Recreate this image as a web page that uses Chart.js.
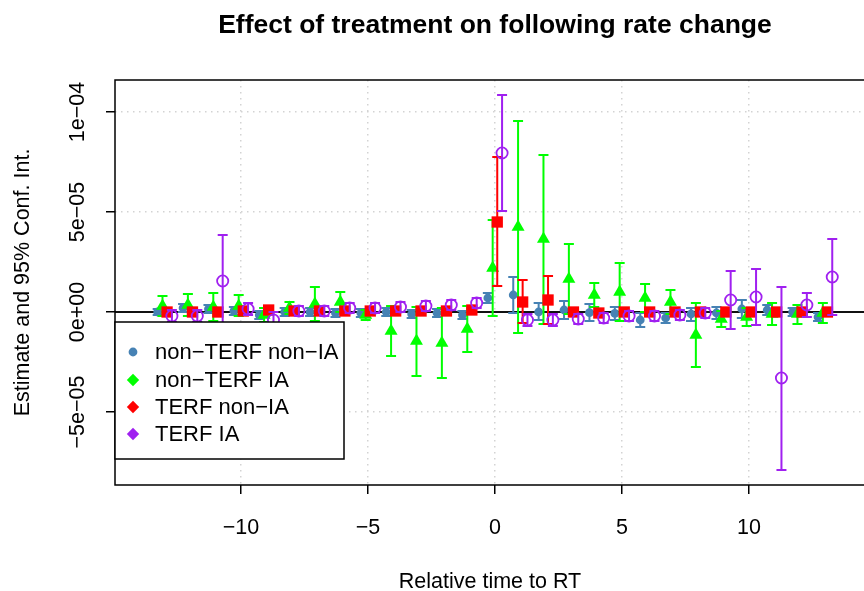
<!DOCTYPE html>
<html><head><meta charset="utf-8">
<script src="https://cdn.jsdelivr.net/npm/chart.js@4/dist/chart.umd.min.js"></script>
<style>html,body{margin:0;padding:0;background:#fff;overflow:hidden;width:864px;height:591px}canvas{display:block}</style>
</head><body><canvas id="c" width="864" height="591" style="width:864px;height:591px"></canvas>
<script>
// values are in units of 1e-6
const UNIT = 1e-6;
const relTime = [-13,-12,-11,-10,-9,-8,-7,-6,-5,-4,-3,-2,-1,0,1,2,3,4,5,6,7,8,9,10,11,12,13];

const nonTerfNonIA_est = [0,2,1.5,0.5,-1.5,0,0,-0.5,-0.5,0,-1,-0.5,-1.5,7,8.5,0,1,-0.3,-0.7,-4,-3,-1,-0.5,1.5,1,0,-2.5];
const nonTerfNonIA_lo  = [-1.5,0,-0.5,-1.5,-3.5,-2,-2,-2.5,-2.5,-2,-3,-2.5,-3.5,4.5,-0.5,-4,-3.5,-4.5,-4,-7.5,-5.5,-4.5,-3.5,-3,-1.5,-2,-4.5];
const nonTerfNonIA_hi  = [1.5,4,3.5,2.5,0.5,2,2,1.5,1.5,2,1,1.5,0.5,9.5,17.5,4.5,5.5,4,2.5,-0.5,-0.5,2,2.5,6,3.5,2,-0.5];

const nonTerfIA_est = [3,3.5,2.5,3,-1.5,2,4,5,-1.5,-9.5,-14.5,-15.5,-8.5,22,42.5,36.5,16.5,8.5,10,7,5,-11.5,-3.5,-2.5,-1,-1,-0.5];
const nonTerfIA_lo  = [-2,-2,-4.5,-2,-5,-1,-4.5,0,-4,-22,-32,-33,-20,-2,-10.5,-6,-1,2.5,-4.5,0,-1,-27.5,-7.5,-7,-6.5,-6,-5.5];
const nonTerfIA_hi  = [8,9,9.5,8.5,2,5,12.5,10,1,3,2.5,2,3,46,95.5,78.5,34,14.5,24.5,14,11,4.5,0.5,2,4.5,3.5,4.5];

const terfNonIA_est = [0,0,0,0.5,1,0.5,0.5,0.5,0.5,0.5,0.5,0.5,1,45,5,6,0,-0.5,0,0,0,0,0,0,0,0,0];
const terfNonIA_lo  = [-1,-1,-1,-0.5,0,-0.5,-0.5,-0.5,-0.5,-0.5,-0.5,-0.5,0,13,-5.5,-6,-1,-1.5,-1,-1,-1,-1,-1,-1,-1,-1,-1];
const terfNonIA_hi  = [1,1,1,1.5,2,1.5,1.5,1.5,1.5,1.5,1.5,1.5,2,77.5,16,18,1,0.5,1,1,1,1,1,1,1,1,1];

const terfIA_est = [-2,-2,15.5,1.5,-4,0.5,0.5,2,2,2.5,3,3.5,4.5,79.5,-4,-4,-3.5,-3,-2,-2,-1.5,-0.5,6,7.5,-33,3.5,17.5];
const terfIA_lo  = [-5,-5,-7.5,-1.5,-8,-2,-2,-0.5,-0.5,0,0.5,1,2,50.5,-7,-7,-6,-5.5,-4.5,-4.5,-4,-3,-8.5,-6.5,-79,-2.5,-1.5];
const terfIA_hi  = [1,1,38.5,4.5,0,3,3,4.5,4.5,5,5.5,6,7,108.5,-1,-1,-1,-0.5,0.5,0.5,1,2,20.5,21.5,12.5,9.5,36.5];

const seriesNames = ['non\u2212TERF non\u2212IA','non\u2212TERF IA','TERF non\u2212IA','TERF IA'];
const xTickValues = [-10,-5,0,5,10];
const xTickLabels = ['\u221210','\u22125','0','5','10'];
const yTickValues = [-5e-5,0,5e-5,1e-4];
const yTickLabels = ['\u22125e\u221205','0e+00','5e\u221205','1e\u221204'];
const titleText = 'Effect of treatment on following rate change';
const xTitle = 'Relative time to RT';
const yTitle = 'Estimate and 95% Conf. Int.';

const FONT = '"Liberation Sans", Arial, Helvetica, sans-serif';
const COLORS = ['#4682B4','#00FF00','#FF0000','#A020F0'];
const OFFSETS = [-0.28,-0.09,0.09,0.28];
const ests = [nonTerfNonIA_est, nonTerfIA_est, terfNonIA_est, terfIA_est];
const los = [nonTerfNonIA_lo, nonTerfIA_lo, terfNonIA_lo, terfIA_lo];
const his = [nonTerfNonIA_hi, nonTerfIA_hi, terfNonIA_hi, terfIA_hi];
const styles = [
  {pointStyle:'circle', radius:4.4, fill:true},
  {pointStyle:'triangle', radius:7.5, fill:true},
  {pointStyle:'rect', radius:8, fill:true},
  {pointStyle:'circle', radius:5.6, fill:false}
];

const datasets = ests.map((est, s) => ({
  label: seriesNames[s],
  data: relTime.map((t, i) => ({x: t + OFFSETS[s], y: est[i] * UNIT, lo: los[s][i] * UNIT, hi: his[s][i] * UNIT})),
  pointStyle: styles[s].pointStyle,
  pointRadius: styles[s].radius,
  pointHoverRadius: styles[s].radius,
  pointBackgroundColor: styles[s].fill ? COLORS[s] : 'rgba(0,0,0,0)',
  pointBorderColor: COLORS[s],
  pointBorderWidth: styles[s].fill ? 0 : 1.8,
  order: 4 - s
}));

const extras = {
  id: 'extras',
  beforeDatasetsDraw(chart) {
    const {ctx, chartArea: a, scales: {y}} = chart;
    const py = y.getPixelForValue(0);
    ctx.save();
    ctx.strokeStyle = '#111'; ctx.lineWidth = 1.8;
    ctx.beginPath(); ctx.moveTo(a.left, py); ctx.lineTo(a.right, py); ctx.stroke();
    ctx.restore();
  },
  beforeDatasetDraw(chart, args) {
    const {ctx, chartArea: a, scales: {x, y}} = chart;
    const ds = chart.data.datasets[args.index];
    const s = seriesNames.indexOf(ds.label);
    ctx.save();
    ctx.beginPath(); ctx.rect(a.left, a.top, a.right - a.left, a.bottom - a.top); ctx.clip();
    ctx.strokeStyle = COLORS[s]; ctx.lineWidth = 2; ctx.lineCap = 'butt';
    const cap = 5;
    ds.data.forEach(p => {
      const px = x.getPixelForValue(p.x);
      const y1 = y.getPixelForValue(p.lo), y2 = y.getPixelForValue(p.hi);
      ctx.beginPath();
      ctx.moveTo(px, y1); ctx.lineTo(px, y2);
      ctx.moveTo(px - cap, y1); ctx.lineTo(px + cap, y1);
      ctx.moveTo(px - cap, y2); ctx.lineTo(px + cap, y2);
      ctx.stroke();
    });
    ctx.restore();
  },
  afterDatasetsDraw(chart) {
    const {ctx, chartArea: a} = chart;
    ctx.save();
    // box (right edge lies just outside the picture)
    ctx.strokeStyle = '#000'; ctx.lineWidth = 1.5;
    ctx.beginPath();
    ctx.moveTo(a.right + 2, a.top); ctx.lineTo(a.left, a.top); ctx.lineTo(a.left, a.bottom); ctx.lineTo(a.right + 2, a.bottom);
    ctx.stroke();
    // legend
    const lx = a.left, ly = 322, lw = 229, lh = 137;
    ctx.fillStyle = '#fff'; ctx.fillRect(lx, ly, lw, lh);
    ctx.strokeRect(lx, ly, lw, lh);
    ctx.font = '22px ' + FONT; ctx.textBaseline = 'middle'; ctx.textAlign = 'left';
    const rows = [352, 380, 407, 434];
    seriesNames.forEach((name, i) => {
      const mx = lx + 18, my = rows[i];
      ctx.fillStyle = COLORS[i];
      ctx.beginPath();
      if (i === 0) { ctx.arc(mx, my, 4.4, 0, Math.PI * 2); }
      else { const d = 6.2; ctx.moveTo(mx, my - d); ctx.lineTo(mx + d, my); ctx.lineTo(mx, my + d); ctx.lineTo(mx - d, my); ctx.closePath(); }
      ctx.fill();
      ctx.fillStyle = '#000';
      ctx.fillText(name, lx + 40, my + 1);
    });
    ctx.restore();
  },
  afterDraw(chart) {
    const {ctx, chartArea: a, scales: {x, y}} = chart;
    ctx.save();
    ctx.fillStyle = '#000';
    ctx.font = '21.5px ' + FONT; ctx.textAlign = 'center'; ctx.textBaseline = 'middle';
    yTickValues.forEach((v, i) => {
      const py = y.getPixelForValue(v);
      ctx.save(); ctx.translate(78, py); ctx.rotate(-Math.PI / 2); ctx.fillText(yTickLabels[i], 0, 0); ctx.restore();
    });
    // titles centred on the full plot region (which extends past the picture edge)
    const cx = x.getPixelForValue(0);
    ctx.font = 'bold 26.5px ' + FONT;
    ctx.fillText(titleText, cx, 26);
    ctx.font = '21.5px ' + FONT;
    ctx.fillText(xTitle, cx - 5, 582);
    ctx.save(); ctx.translate(23, (a.top + a.bottom) / 2); ctx.rotate(-Math.PI / 2); ctx.fillText(yTitle, 0, 0); ctx.restore();
    ctx.restore();
  }
};

new Chart(document.getElementById('c'), {
  type: 'scatter',
  data: {datasets},
  options: {
    responsive: false, devicePixelRatio: 1, animation: false,
    layout: {autoPadding: false, padding: {top: 80, left: 0, right: 0, bottom: 0}},
    plugins: {legend: {display: false}, title: {display: false}, tooltip: {enabled: false}},
    events: [],
    scales: {
      x: {
        type: 'linear', min: -14.96, max: 14.53,
        afterFit(s) { s.height = 106; s.paddingLeft = 0; s.paddingRight = 0; },
        afterBuildTicks(s) { s.ticks = xTickValues.map(v => ({value: v})); },
        grid: {color: '#d3d3d3', lineWidth: 1.5, tickColor: '#000', tickWidth: 1.5, tickLength: 9, drawTicks: true, tickBorderDash: []},
        border: {display: false, dash: [1.5, 4.5]},
        ticks: {font: {family: FONT, size: 21.5}, color: '#000', padding: 21, maxRotation: 0, minRotation: 0, autoSkip: false,
          callback: (v) => { const i = xTickValues.indexOf(v); return i >= 0 ? xTickLabels[i] : ''; }}
      },
      y: {
        type: 'linear', min: -86.5e-6, max: 116e-6,
        afterFit(s) { s.width = 115; s.paddingTop = 0; s.paddingBottom = 0; },
        afterBuildTicks(s) { s.ticks = yTickValues.map(v => ({value: v})); },
        grid: {color: '#d3d3d3', lineWidth: 1.5, tickColor: '#000', tickWidth: 1.5, tickLength: 9, drawTicks: true, tickBorderDash: []},
        border: {display: false, dash: [1.5, 4.5]},
        ticks: {display: false}
      }
    }
  },
  plugins: [extras]
});
</script>
</body></html>
